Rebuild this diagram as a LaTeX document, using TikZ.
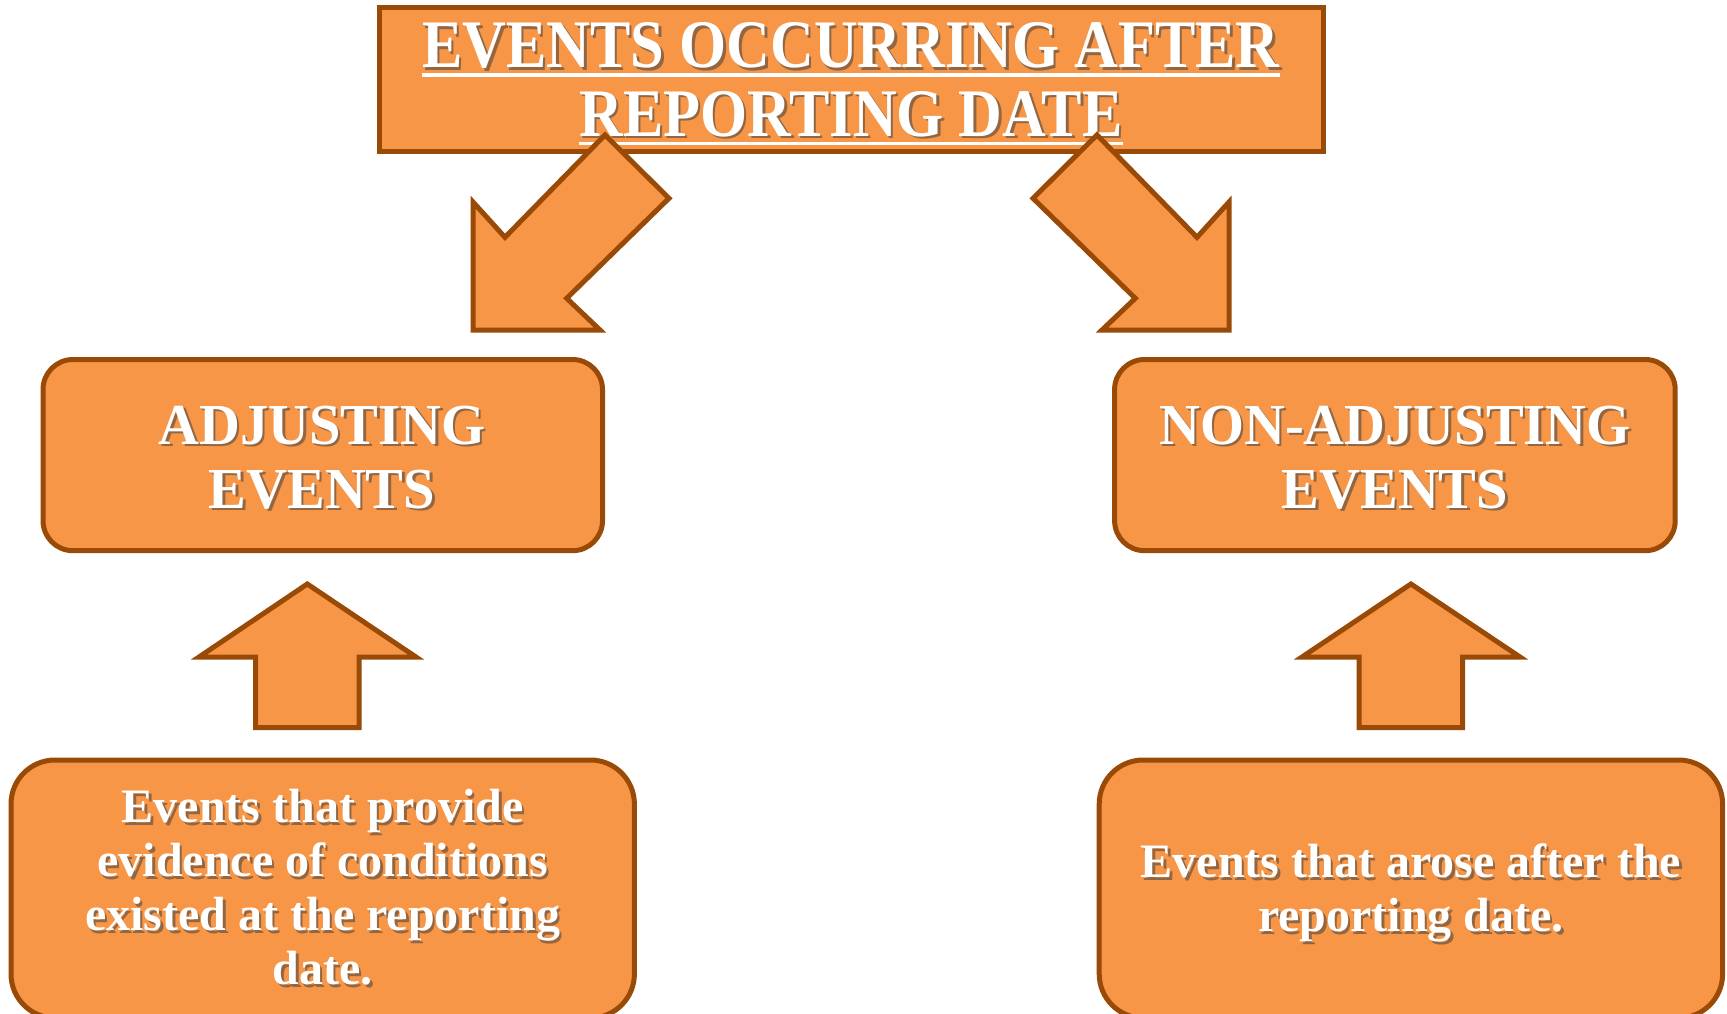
\documentclass[tikz,border=0pt]{standalone}
\usepackage{fontspec}
\setmainfont{Liberation Serif}[FakeStretch=1.0]
\newfontfamily\titlefont{Liberation Serif}[FakeStretch=0.89]
\newfontfamily\midfont{Liberation Serif}[FakeStretch=0.975]
\definecolor{fillc}{HTML}{F79646}
\definecolor{linec}{HTML}{9A4A07}
\newcommand\shadowtext[4]{%
  \node[#3, text=black!75, opacity=0.55, xshift=2.5pt, yshift=-2.5pt] at (#2) {#4};
  \node[#3] (#1) at (#2) {#4};}
\begin{document}
\begin{tikzpicture}[x=1pt,y=-1pt,
  blk/.style={fill=fillc, draw=linec, line width=5pt, line join=miter},
  rbox/.style={blk, rounded corners=30pt},
  bbox/.style={blk, rounded corners=44pt},
  titletxt/.style={text=white, inner sep=0pt, anchor=base, font=\titlefont\bfseries\fontsize{68}{68}\selectfont},
  midtxt/.style={text=white, inner sep=0pt, anchor=base, align=center, font=\midfont\bfseries\fontsize{58}{64}\selectfont},
  lowtxt/.style={text=white, inner sep=0pt, anchor=base, align=center, font=\bfseries\fontsize{48}{54}\selectfont},
  uline/.style={line width=3.5pt}]
\useasboundingbox (0,0) rectangle (1727,1014);
% title box
\draw[blk] (379,8) rectangle (1323,152);
\shadowtext{t1}{851,68}{titletxt}{EVENTS OCCURRING AFTER}
\shadowtext{t2}{851,136.5}{titletxt}{REPORTING DATE}
\foreach \n in {t1,t2}{
  \draw[uline, black!75, opacity=0.55, xshift=2.5pt, yshift=-2.5pt] ([yshift=-7pt]\n.base west) -- ([yshift=-7pt]\n.base east);
  \draw[uline, white] ([yshift=-7pt]\n.base west) -- ([yshift=-7pt]\n.base east);
}
% diagonal block arrows
\draw[blk] (605,135) -- (669,198.3) -- (566.7,298.3) -- (600,330) -- (473,330) -- (473,202) -- (505,237.3) -- cycle;
\draw[blk] (1097,135) -- (1033,198.3) -- (1135.3,298.3) -- (1102,330) -- (1229,330) -- (1229,202) -- (1197,237.3) -- cycle;
% middle boxes
\draw[rbox] (43,359.5) rectangle (602.5,550.7);
\draw[rbox] (1114.6,359.5) rectangle (1675.2,550.7);
\shadowtext{adj}{322,508}{midtxt}{ADJUSTING\\EVENTS}
\shadowtext{nadj}{1395,508}{midtxt}{NON-ADJUSTING\\EVENTS}
% up arrows
\draw[blk] (307.3,584) -- (416,657) -- (359,657) -- (359,727.5) -- (255.5,727.5) -- (255.5,657) -- (199,657) -- cycle;
\draw[blk] (1410.9,584) -- (1520,657) -- (1462.7,657) -- (1462.7,727.5) -- (1359.1,727.5) -- (1359.1,657) -- (1302,657) -- cycle;
% bottom boxes
\draw[bbox] (11,760) rectangle (634.4,1018);
\draw[bbox] (1099.2,760) rectangle (1722.6,1018);
\shadowtext{evl}{322.7,984.6}{lowtxt}{Events that provide\\evidence of conditions\\existed at the reporting\\date.}
\shadowtext{evr}{1410.9,931.8}{lowtxt}{Events that arose after the\\reporting date.}
\end{tikzpicture}
\end{document}
